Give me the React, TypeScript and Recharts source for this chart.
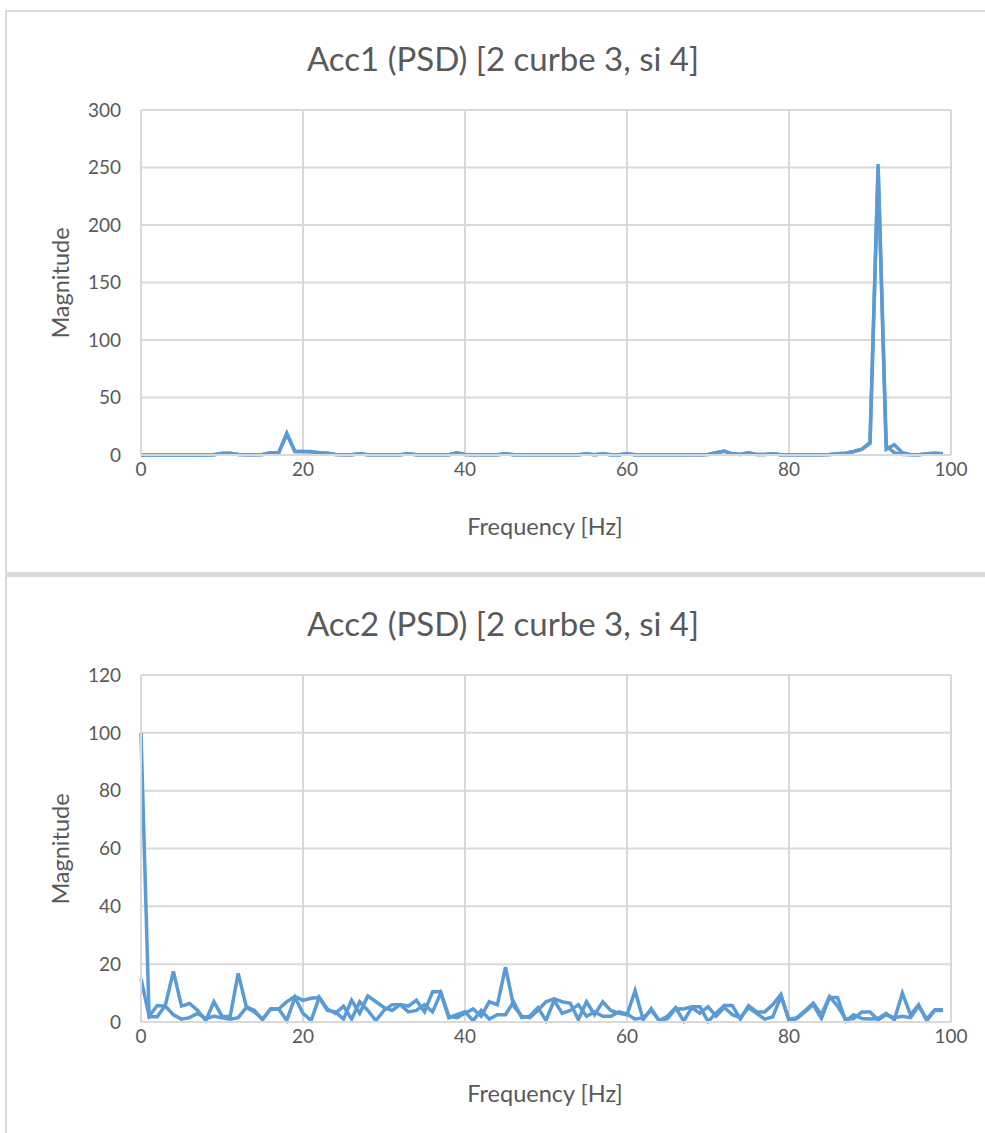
import { CartesianGrid, Line, LineChart, XAxis, YAxis } from 'recharts';

// frequency bins (Hz)
const FREQ = Array.from({ length: 100 }, (_, i) => i);

// Acc1, curve 3 and curve 4
const ACC1_C3 = [
    0, 0, 0, 0, 0, 0, 0, 0, 0, 0.3,
    1.5, 1.5, 0.5, 0.3, 0.3, 0.5, 2, 2, 19, 3,
    3, 3, 2, 1.5, 0.5, 0.3, 0.3, 1, 0.3, 0.3,
    0.3, 0.3, 0.3, 1, 0.3, 0.3, 0.3, 0.3, 0.3, 2,
    0.5, 0.3, 0.3, 0.3, 0.3, 1, 0.3, 0.3, 0.3, 0.3,
    0.3, 0.3, 0.3, 0.3, 0.3, 1, 0.3, 1, 0.3, 0.3,
    1, 0.3, 0.3, 0.3, 0.3, 0.3, 0.3, 0.3, 0.3, 0.3,
    0.5, 2, 3.5, 1, 0.5, 2, 0.5, 0.5, 1, 0.3,
    0.3, 0.3, 0.3, 0.3, 0.3, 0.5, 1, 1.5, 3, 5,
    11, 253, 8, 2, 0.5, 0.3, 0.3, 1, 1.5, 1,
];
const ACC1_C4 = [
    0, 0, 0, 0, 0, 0, 0, 0, 0, 0.3,
    1.2, 1.5, 0.5, 0.3, 0.3, 0.5, 1.8, 2, 18, 3,
    3, 2.5, 2, 1.5, 0.5, 0.3, 0.3, 1, 0.3, 0.3,
    0.3, 0.3, 0.3, 1, 0.3, 0.3, 0.3, 0.3, 0.3, 1.8,
    0.5, 0.3, 0.3, 0.3, 0.3, 1, 0.3, 0.3, 0.3, 0.3,
    0.3, 0.3, 0.3, 0.3, 0.3, 1, 0.3, 1, 0.3, 0.3,
    1, 0.3, 0.3, 0.3, 0.3, 0.3, 0.3, 0.3, 0.3, 0.3,
    0.5, 2, 3.2, 1, 0.5, 2, 0.5, 0.5, 1, 0.3,
    0.3, 0.3, 0.3, 0.3, 0.3, 0.5, 1, 1.5, 3, 5,
    10, 248, 5, 9, 2, 0.5, 0.3, 1, 1.5, 1,
];

// Acc2, curve 3 and curve 4
const ACC2_C3 = [
    100, 1.8, 1.8, 5.7, 17.5, 5.5, 6.4, 4, 0.5, 7,
    2, 1.8, 16.8, 5.3, 4, 0.8, 4.5, 4.5, 7, 8.8,
    7.5, 8.2, 8.5, 4, 3.5, 1, 7.5, 3, 9, 7,
    5, 4, 6, 5.5, 7.5, 3.5, 10.5, 10.5, 2, 1.5,
    3, 4.5, 2, 7, 6, 19, 5.5, 2, 1.5, 4,
    7, 8, 7, 6.5, 0.8, 7, 2.5, 7, 4, 3,
    2.5, 10.8, 0.8, 4.6, 0.2, 1.2, 4.6, 4.5, 5.3, 5.3,
    0.2, 3, 5.7, 5.7, 1, 5.7, 3.5, 3.5, 6, 9.5,
    0.3, 1.2, 3.6, 6, 1.2, 8.5, 8.5, 0.3, 2.5, 1.2,
    1, 1.2, 3, 0.8, 10, 2.5, 6, 0.5, 4, 4,
];
const ACC2_C4 = [
    15, 2, 5.7, 5.5, 2.5, 1, 1.5, 3, 1.2, 2,
    1.5, 1, 1.5, 5, 3.5, 1, 4.5, 4.5, 0.5, 8.5,
    3, 0.5, 8.5, 4.5, 3, 5.5, 1, 7, 4, 0.5,
    4, 6, 6, 3.5, 4, 6, 3.5, 10, 1.5, 2.5,
    3.5, 0.5, 4, 1, 2.5, 2.5, 7, 1.5, 2, 5,
    0.5, 7.5, 3, 4, 6, 2, 3.5, 2, 2, 3.5,
    2.8, 1, 1.5, 4, 0.5, 2, 5, 0.3, 5, 3,
    5.3, 2, 5, 2.5, 1.5, 5, 3, 1, 1.8, 8.8,
    1, 1.5, 4, 6.5, 2.5, 8.8, 5.5, 1, 1.2, 3.5,
    3.5, 0.8, 2.5, 1.5, 2, 1.5, 5.5, 1, 4.2, 4.2,
];

const X_TICKS = [0, 20, 40, 60, 80, 100];
const ACC1_Y_TICKS = [0, 50, 100, 150, 200, 250, 300];
const ACC2_Y_TICKS = [0, 20, 40, 60, 80, 100, 120];

const FONT = 'Lato, "Open Sans", sans-serif';
const TEXT = '#595959';
const GRID = '#d9d9d9';
const BLUE = '#5b9bd5';

type PanelProps = {
    top: number;
    height: number;
    title: string;
    c3: number[];
    c4: number[];
    yTicks: number[];
    marginTop: number;
    marginBottom: number;
};

function PsdPanel({ top, height, title, c3, c4, yTicks, marginTop, marginBottom }: PanelProps) {
    const rows = FREQ.map((f, i) => ({ f, c3: c3[i], c4: c4[i] }));
    const plotTop = marginTop;
    const plotBottom = height - marginBottom - 80;
    return (
        <div style={{ position: 'absolute', left: 0, top, width: 985, height }}>
            <div style={{
                position: 'absolute', left: 0, width: 1006, top: plotTop - 72, textAlign: 'center',
                fontFamily: FONT, fontSize: 33, color: TEXT, lineHeight: '40px'
            }}>
                {title}
            </div>
            <div style={{
                position: 'absolute', left: 141, width: 808, top: plotBottom + 57, textAlign: 'center',
                fontFamily: FONT, fontSize: 23.5, color: TEXT, lineHeight: '28px'
            }}>
                Frequency [Hz]
            </div>
            <div style={{
                position: 'absolute', left: 60, top: (plotTop + plotBottom) / 2,
                transform: 'translate(-50%, -50%) rotate(-90deg)', whiteSpace: 'nowrap',
                fontFamily: FONT, fontSize: 23.5, color: TEXT, lineHeight: '28px'
            }}>
                Magnitude
            </div>
            <LineChart width={985} height={height} data={rows}
                margin={{ top: marginTop, right: 34, left: 71, bottom: marginBottom }}>
                <CartesianGrid stroke={GRID} strokeWidth={2} />
                <XAxis
                    dataKey="f"
                    type="number"
                    domain={[0, 100]}
                    ticks={X_TICKS}
                    height={80}
                    stroke={GRID}
                    strokeWidth={2}
                    tickLine={false}
                    tickSize={0}
                    tickMargin={8}
                    tick={{ fill: TEXT, fontSize: 19, fontFamily: FONT }}
                />
                <YAxis
                    type="number"
                    domain={[yTicks[0], yTicks[yTicks.length - 1]]}
                    ticks={yTicks}
                    width={70}
                    stroke={GRID}
                    strokeWidth={2}
                    tickLine={false}
                    tickSize={0}
                    tickMargin={20}
                    tick={{ fill: TEXT, fontSize: 19, fontFamily: FONT }}
                />
                <Line type="linear" dataKey="c3" stroke={BLUE} strokeWidth={3.5} dot={false} isAnimationActive={false} />
                <Line type="linear" dataKey="c4" stroke={BLUE} strokeWidth={3.5} dot={false} isAnimationActive={false} />
            </LineChart>
        </div>
    );
}

export default function App() {
    return (
        <div style={{ position: 'absolute', left: 0, top: 0, width: 985, height: 1133, background: '#fff', overflow: 'hidden' }}>
            <div style={{ position: 'absolute', left: 5, top: 10, width: 1000, height: 1123, borderLeft: `2px solid ${GRID}`, borderTop: `2px solid ${GRID}` }} />
            <div style={{ position: 'absolute', left: 5, top: 572, width: 990, height: 5, background: GRID }} />
            <PsdPanel top={0} height={572} title="Acc1 (PSD) [2 curbe 3, si 4]"
                c3={ACC1_C3} c4={ACC1_C4} yTicks={ACC1_Y_TICKS} marginTop={110} marginBottom={37} />
            <PsdPanel top={577} height={556} title="Acc2 (PSD) [2 curbe 3, si 4]"
                c3={ACC2_C3} c4={ACC2_C4} yTicks={ACC2_Y_TICKS} marginTop={98} marginBottom={31} />
        </div>
    );
}
